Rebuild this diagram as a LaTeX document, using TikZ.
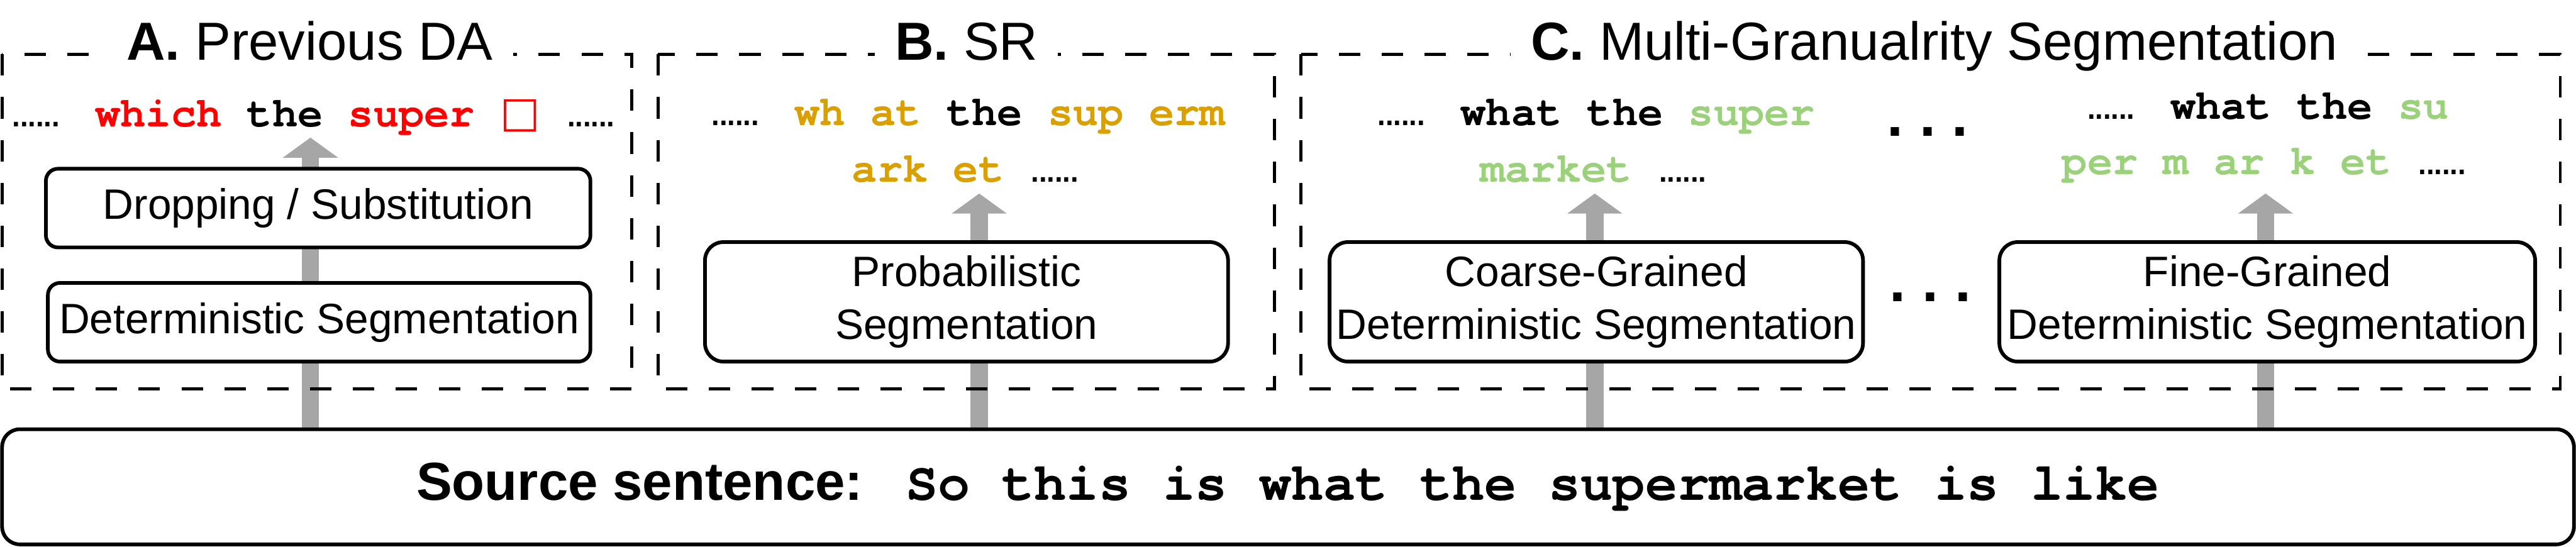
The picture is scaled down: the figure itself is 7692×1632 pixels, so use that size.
\documentclass[tikz,border=0pt]{standalone}
\usepackage{fontspec}
\setmainfont{Liberation Sans}
\newfontfamily\mb{TeX Gyre Cursor}
\newfontfamily\dejavu{DejaVu Sans}
\usetikzlibrary{arrows.meta}
\definecolor{seqred}{RGB}{255,0,0}
\definecolor{seqgold}{RGB}{218,160,0}
\definecolor{seqgreen}{RGB}{155,209,122}
\definecolor{flowgray}{RGB}{166,166,166}
\newcommand\dts{{\normalfont.\kern-1.15pt.\kern-1.15pt.\kern-1.15pt.\kern-1.15pt.\kern-1.15pt.}}
\newcommand\rd[1]{\textcolor{seqred}{#1}}
\newcommand\gd[1]{\textcolor{seqgold}{#1}}
\newcommand\gn[1]{\textcolor{seqgreen}{#1}}
\pgfdeclarelayer{background}
\pgfsetlayers{background,main}
\begin{document}
\begin{tikzpicture}[x=0.1pt,y=-0.1pt,
  dashbox/.style={draw, line width=0.9pt, dash pattern=on 6.4pt off 6.4pt},
  paneltitle/.style={fill=white, anchor=base, inner xsep=6pt, inner ysep=3pt, font=\fontsize{16pt}{19pt}\selectfont},
  proc/.style={draw, line width=1.1pt, fill=white, align=center, inner sep=0pt, font=\fontsize{12.7pt}{15.7pt}\selectfont},
  lowbox/.style={proc, rounded corners=3.6pt, minimum height=23.5pt},
  tallbox/.style={proc, rounded corners=5.5pt, minimum height=35.7pt},
  seq/.style={anchor=base, inner sep=0pt, font=\mb\bfseries\fontsize{12.6pt}{16.9pt}\selectfont},
  flow/.style={draw=flowgray, line width=5.2pt, -{Triangle[length=6pt,width=16.2pt]}},
  edots/.style={anchor=base, inner sep=0pt, font=\bfseries\fontsize{17.5pt}{20pt}\selectfont}
]
\useasboundingbox (0,0) rectangle (7692,1632);

% dashed panels
\draw[dashbox] (6,162) rectangle (1887,1162);
\draw[dashbox] (1965,162) rectangle (3806,1162);
\draw[dashbox] (3885,162) rectangle (7645,1162);

% panel titles
\node[paneltitle] (tA) at (925,179) {\textbf{A.} Previous DA};
\node[paneltitle] (tB) at (2886,179) {\textbf{B.} SR};
\node[paneltitle] (tC) at (5776,179) {\textbf{C.} Multi-Granualrity Segmentation};

% source sentence
\node[proc, rounded corners=5.3pt, minimum width=768pt, minimum height=34.4pt,
      font=\fontsize{16pt}{19pt}\selectfont] (src) at (3846,1454)
  {\textbf{Source sentence:}{\mb\bfseries{} So this is what the supermarket is like}};

% panel A
\node[lowbox, minimum width=162.6pt] (drop) at (950,621.5) {Dropping / Substitution};
\node[lowbox, minimum width=162.0pt] (detA) at (953,962.5) {Deterministic Segmentation};
\node[seq] (outA) at (936,379) {\dts{} \rd{which} the \rd{super} \rd{{\dejavu\mdseries □}} \dts};

% panel B
\node[tallbox, minimum width=156.2pt] (prob) at (2886,901.5) {Probabilistic\\Segmentation};
\node[seq] (outB1) at (2889,375) {\dts{} \gd{wh at} the \gd{sup erm}};
\node[seq] (outB2) at (2885,544) {\gd{ark et} \dts};

% panel C
\node[tallbox, minimum width=159.3pt] (coarse) at (4766.5,901.5) {Coarse-Grained\\Deterministic Segmentation};
\node[tallbox, minimum width=160.0pt] (fine) at (6770,901.5) {Fine-Grained\\Deterministic Segmentation};
\node[seq] (outC1) at (4764,375) {\dts{} what the \gn{super}};
\node[seq] (outC2) at (4760,544) {\gn{market} \dts};
\node[seq] (outF1) at (6770,355) {\dts{} what the \gn{su}};
\node[seq] (outF2) at (6763,522) {\gn{per m ar k et} \dts};
\node[edots] (dotsTop) at (5756,406) {.\ .\ .};
\node[edots] (dotsMid) at (5764,900) {.\ .\ .};

% arrow tips
\coordinate (tipA) at (927,411);
\coordinate (tipB) at (2924,578);
\coordinate (tipC) at (4762,578);
\coordinate (tipF) at (6765,578);

\begin{pgfonlayer}{background}
\draw[flow] (src.north -| tipA) -- (tipA);
\draw[flow] (src.north -| tipB) -- (tipB);
\draw[flow] (src.north -| tipC) -- (tipC);
\draw[flow] (src.north -| tipF) -- (tipF);
\end{pgfonlayer}
\end{tikzpicture}
\end{document}
